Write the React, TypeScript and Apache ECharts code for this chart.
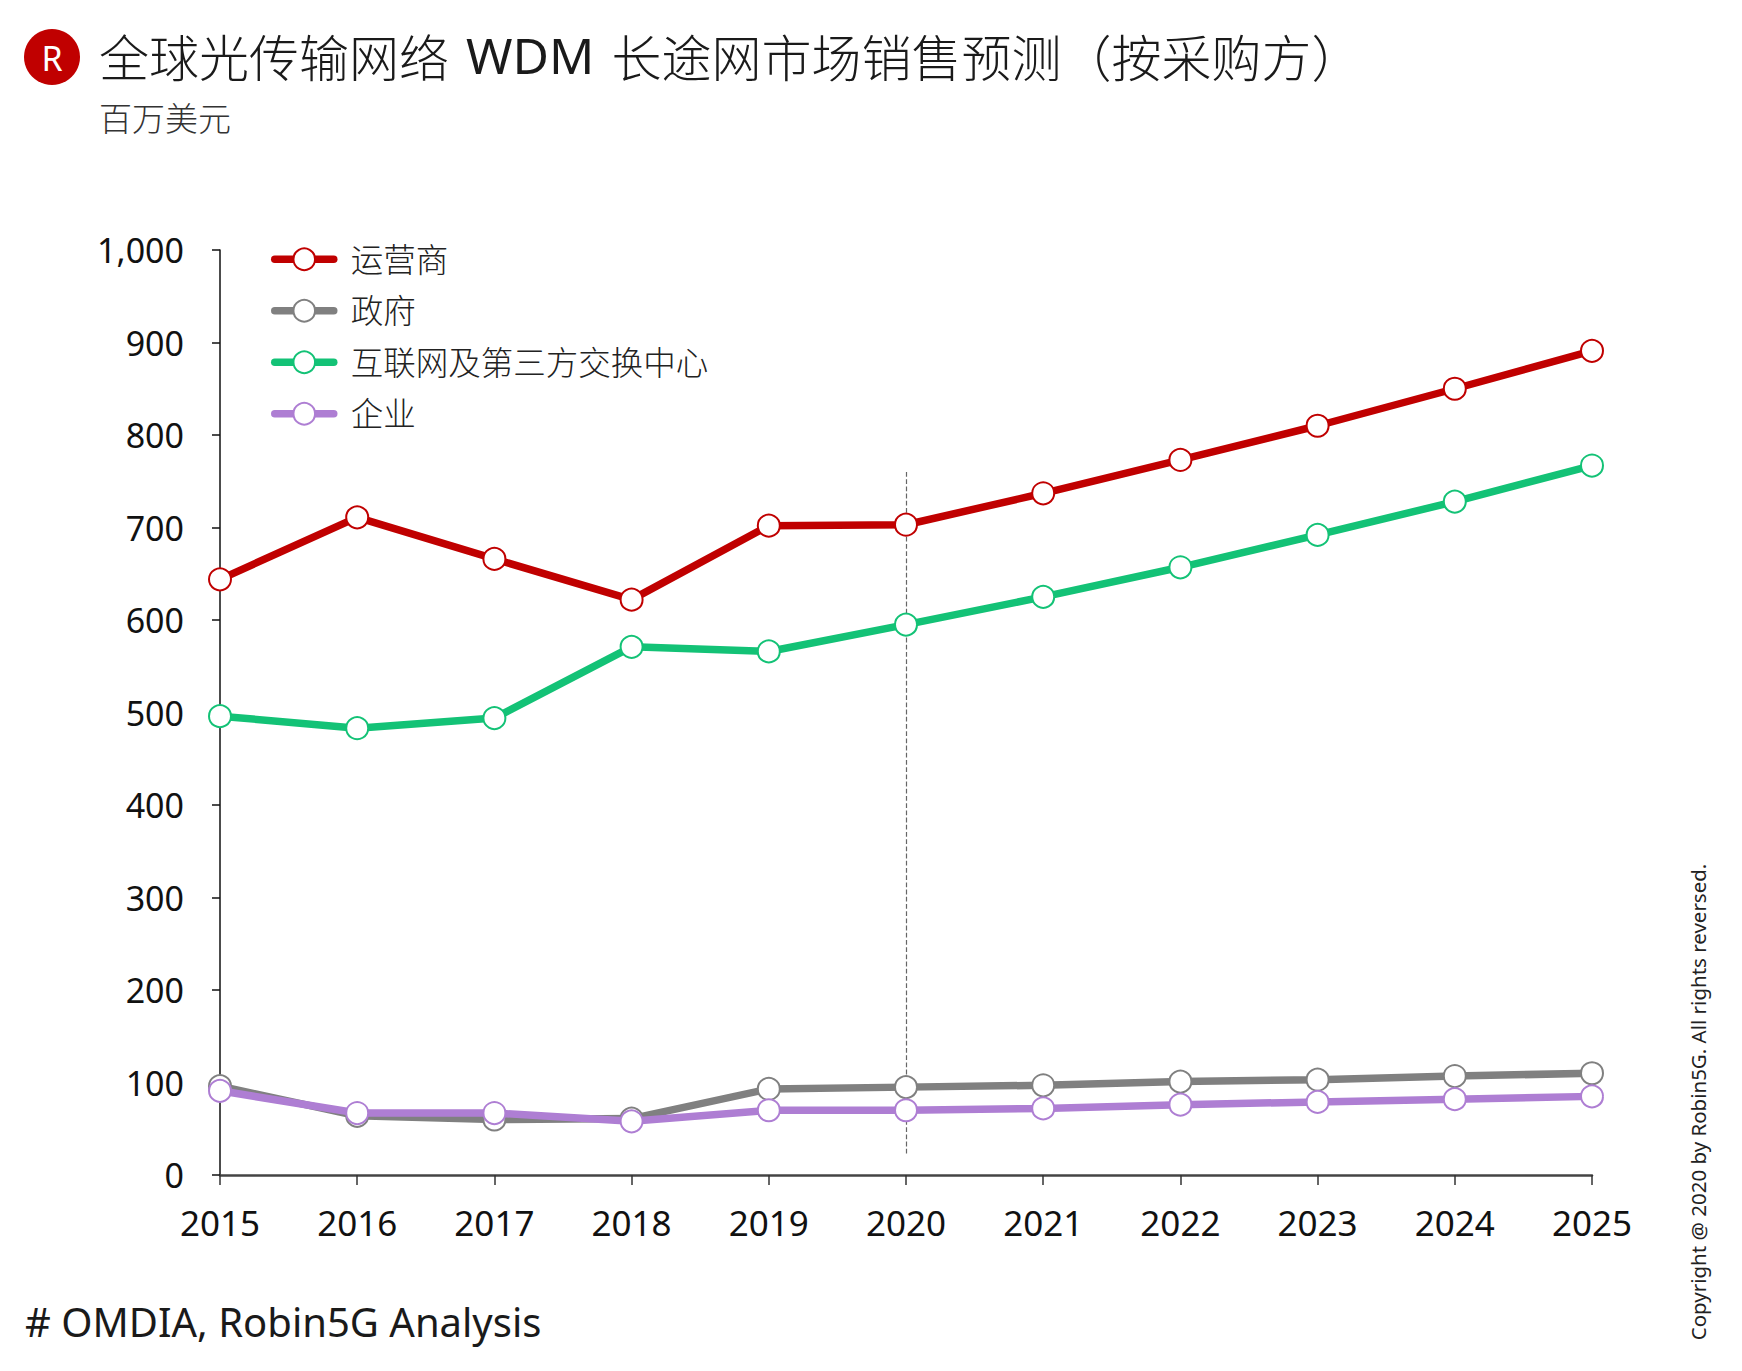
import React, { useEffect, useRef } from "react";
import * as echarts from "echarts";

const years = ["2015", "2016", "2017", "2018", "2019", "2020", "2021", "2022", "2023", "2024", "2025"];
const operator = [644, 711, 666, 622, 702, 703, 737, 773, 810, 850, 891];
const government = [96, 64, 60, 61, 93, 95, 97, 101, 103, 107, 110];
const internetIX = [496, 483, 494, 571, 566, 595, 625, 657, 692, 728, 767];
const enterprise = [91, 67, 67, 58, 70, 70, 72, 76, 79, 82, 85];
const seriesNames = ["运营商", "政府", "互联网及第三方交换中心", "企业"];
const seriesColors = ["#C00000", "#808080", "#13C276", "#AE7ED3"];
const forecastStart = "2020";
const forecastLine = [760, 22];

const FONT = "'Noto Sans', 'Noto Sans CJK SC', sans-serif";

export default function App() {
  const ref = useRef<HTMLDivElement>(null);
  useEffect(() => {
    if (!ref.current) return;
    const chart = echarts.init(ref.current, null, { renderer: "svg" });
    const datasets = [operator, government, internetIX, enterprise];
    const series: any[] = datasets.map((d, i) => ({
      name: seriesNames[i],
      type: "line",
      data: d,
      symbol: "circle",
      symbolSize: 22,
      showAllSymbol: true,
      color: seriesColors[i],
      lineStyle: { color: seriesColors[i], width: 7.5 },
      itemStyle: { color: "#fff", borderColor: seriesColors[i], borderWidth: 2 },
      z: 3 + i,
    }));
    series[0].markLine = {
      silent: true,
      symbol: "none",
      label: { show: false },
      lineStyle: { color: "#666", type: "dashed", width: 1.2 },
      data: [[{ coord: [forecastStart, forecastLine[0]] }, { coord: [forecastStart, forecastLine[1]] }]],
      z: 1,
    };
    chart.setOption({
      animation: false,
      backgroundColor: "#fff",
      textStyle: { fontFamily: FONT },
      grid: { left: 220, right: 150, top: 250, bottom: 196, containLabel: false },
      legend: {
        orient: "vertical",
        left: 266,
        top: 238,
        itemWidth: 59,
        itemHeight: 27,
        itemGap: 19,
        lineStyle: { width: 7.5, cap: "round" },
        textStyle: { fontSize: 32.5, fontWeight: 300, color: "#222", fontFamily: FONT, lineHeight: 27, padding: [0, 0, 0, 12] },
        data: seriesNames,
      },
      xAxis: {
        type: "category",
        data: years,
        boundaryGap: false,
        axisLine: { lineStyle: { color: "#444", width: 2.5 } },
        axisTick: { length: 10, lineStyle: { color: "#333", width: 1.5 } },
        axisLabel: { fontSize: 35, color: "#111", margin: 30, fontFamily: FONT },
        splitLine: { show: false },
      },
      yAxis: {
        type: "value",
        min: 0,
        max: 1000,
        interval: 100,
        axisLine: { show: true, lineStyle: { color: "#111", width: 1.5 } },
        axisTick: { show: true, length: 8, lineStyle: { color: "#111", width: 1.5 } },
        axisLabel: { fontSize: 34, color: "#111", margin: 36, fontFamily: FONT },
        splitLine: { show: false },
      },
      graphic: [
        { type: "circle", shape: { cx: 52, cy: 57, r: 28 }, style: { fill: "#C00000" } },
        {
          type: "text",
          x: 52,
          y: 58,
          style: { text: "R", fill: "#fff", fontSize: 34, fontFamily: FONT, align: "center", verticalAlign: "middle" },
        },
        {
          type: "text",
          x: 99,
          y: 55,
          style: {
            text: "全球光传输网络 {b|WDM} 长途网市场销售预测（按采购方）",
            fill: "#1a1a1a",
            fontSize: 50,
            fontWeight: 300,
            fontFamily: "'Noto Sans CJK SC', 'Noto Sans', sans-serif",
            verticalAlign: "middle",
            rich: {
              b: { fontSize: 50, fontWeight: 400, fill: "#1a1a1a", fontFamily: "'Noto Sans', sans-serif", padding: [0, 6, 0, 6] },
            },
          },
        },
        {
          type: "text",
          x: 99,
          y: 118,
          style: { text: "百万美元", fill: "#333", fontSize: 33, fontWeight: 300, fontFamily: FONT, verticalAlign: "middle" },
        },
        {
          type: "text",
          x: 25,
          y: 1321,
          style: { text: "# OMDIA, Robin5G Analysis", fill: "#1a1a1a", fontSize: 40, fontFamily: FONT, verticalAlign: "middle" },
        },
        {
          type: "text",
          x: 1698,
          y: 1102,
          rotation: Math.PI / 2,
          style: {
            text: "Copyright @ 2020 by Robin5G. All rights reversed.",
            fill: "#222",
            fontSize: 20.5,
            fontFamily: FONT,
            align: "center",
            verticalAlign: "middle",
          },
        },
      ],
      series,
    });
    return () => chart.dispose();
  }, []);
  return <div ref={ref} style={{ position: "absolute", left: 0, top: 0, width: 1742, height: 1371 }} />;
}
